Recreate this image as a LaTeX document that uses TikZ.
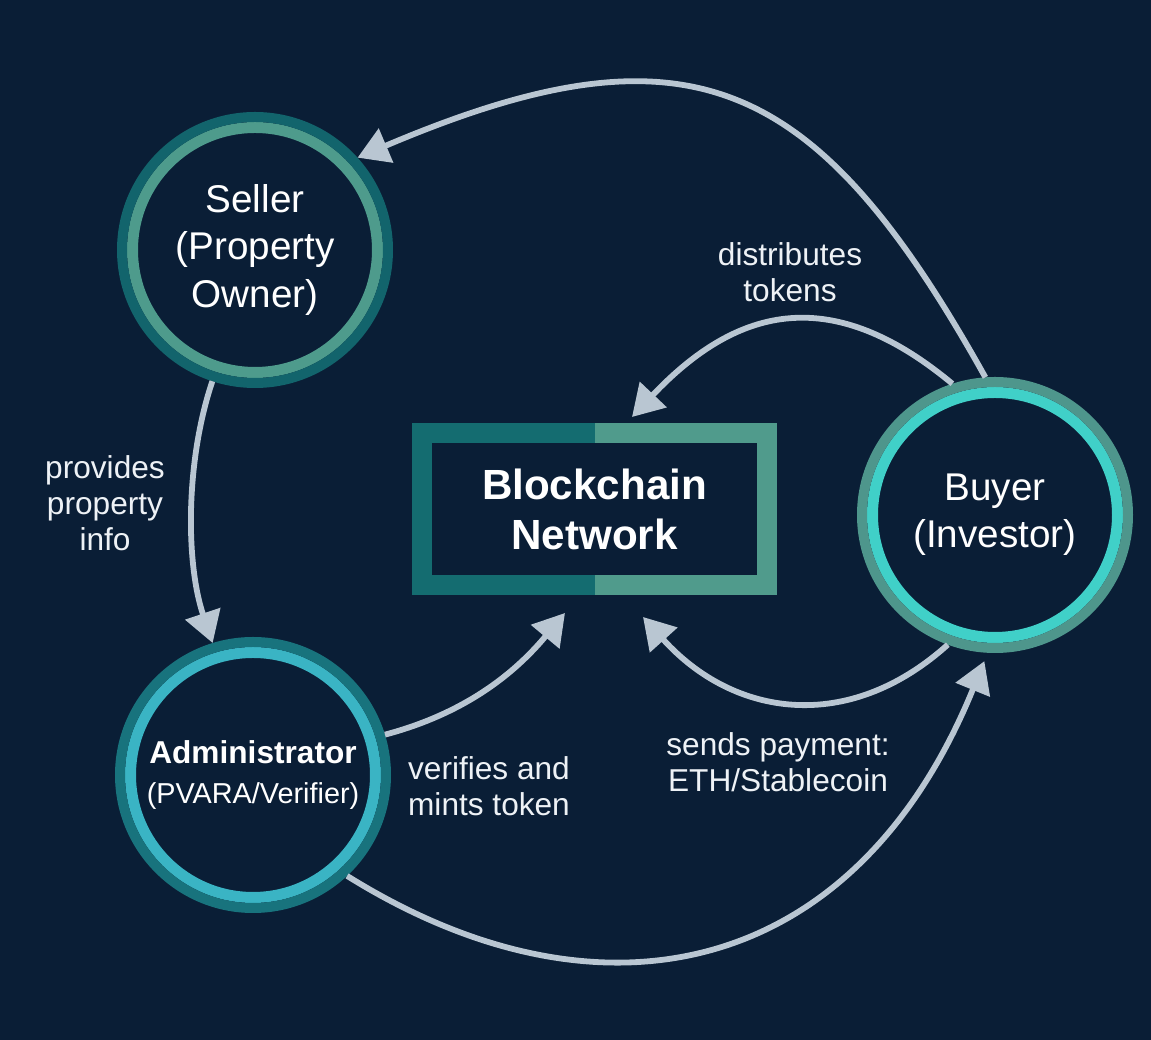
\documentclass[tikz,border=0pt]{standalone}
\usepackage{fontspec}
\setmainfont{Liberation Sans}
\usetikzlibrary{arrows.meta}
\definecolor{NavyBg}{RGB}{10,30,54}
\definecolor{SellerOut}{RGB}{18,100,108}
\definecolor{SellerIn}{RGB}{78,155,140}
\definecolor{BuyerOut}{RGB}{78,150,140}
\definecolor{BuyerIn}{RGB}{64,208,200}
\definecolor{AdminOut}{RGB}{24,115,125}
\definecolor{AdminIn}{RGB}{58,180,196}
\definecolor{BoxLeft}{RGB}{20,108,112}
\definecolor{BoxRight}{RGB}{80,155,140}
\definecolor{FlowGray}{RGB}{185,198,210}
\definecolor{NoteWhite}{RGB}{238,242,246}

\begin{document}
\begin{tikzpicture}
	\tikzstyle{party}=[circle, minimum size=2.66cm, inner sep=0pt, line width=1mm, text=white, align=center, font=\fontsize{11}{13.4}\selectfont]
	\tikzstyle{flow}=[->, draw=FlowGray, line width=1.65pt]
	\tikzstyle{note}=[text=NoteWhite, align=center, font=\fontsize{9}{10.2}\selectfont]
	\tikzset{>={Triangle[length=3.1mm,width=3.6mm]}, ring/.style 2 args={draw=#1, path picture={\draw[#2, line width=1.1mm] (path picture bounding box.center) circle (1.225);}}}
	\fill[NavyBg] (0,0) rectangle (11.51,-10.40);
	\node [party, ring={SellerOut}{SellerIn}] (seller) at (2.55,-2.50) {Seller\\(Property\\Owner)};
	\node [party, ring={BuyerOut}{BuyerIn}] (buyer) at (9.95,-5.15) {Buyer\\(Investor)};
	\node [party, ring={AdminOut}{AdminIn}, font=\fontsize{9}{11.4}\selectfont] (admin) at (2.53,-7.75) {\textbf{Administrator}\\{\fontsize{8.2}{11.4}\selectfont(PVARA/Verifier)}};
	\node [draw=BoxRight, line width=2mm, minimum width=3.45cm, minimum height=1.52cm, outer sep=0pt, inner sep=0pt, text=white, align=center, font=\bfseries\fontsize{12}{14.2}\selectfont] (bc) at (5.945,-5.09) {Blockchain\\Network};
	\draw[BoxLeft, line width=2mm] (bc.north) -- (bc.north west) -- (bc.south west) -- (bc.south);
	\draw[flow] (buyer.94) .. controls +(-1.7,3.05) and +(3.3,1.4) .. (seller.42);
	\draw[flow] (seller.252) .. controls +(-0.27,-0.8) and +(-0.27,0.8) .. (admin.107);
	\draw[flow] (admin.17) .. controls +(0.87,0.23) and +(-0.45,-0.54) .. ([xshift=-2.95mm,yshift=-2.8mm]bc.south);
	\draw[flow] (buyer.108) .. controls +(-1.19,0.99) and +(1.07,1.13) .. ([xshift=3.75mm,yshift=1.6mm]bc.north);
	\draw[flow] (buyer.250) .. controls +(-1.0,-0.9) and +(0.9,-1.0) .. ([xshift=4.85mm,yshift=-3.2mm]bc.south);
	\draw[flow, shorten >=0.9mm] (admin.313) .. controls +(2.55,-1.59) and +(-1.32,-3.24) .. (buyer.267);
	\node [note] (lprov) at (1.05,-5.03) {provides\\property\\info};
	\node [note] (ldist) at (7.90,-2.72) {distributes\\tokens};
	\node [note] (lmint) at (4.89,-7.86) {verifies and\\mints token};
	\node [note] (lpay) at (7.78,-7.62) {sends payment:\\ETH/Stablecoin};
\end{tikzpicture}
\end{document}
